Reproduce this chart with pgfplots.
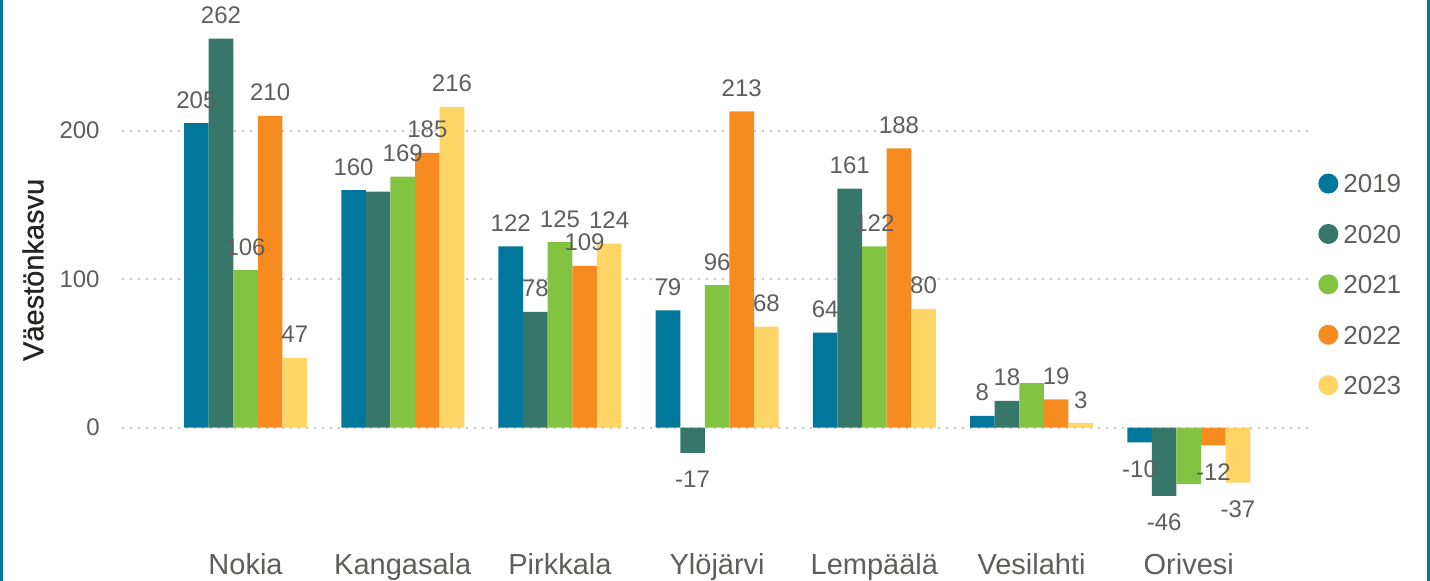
\documentclass[border=0pt]{standalone}
\usepackage{pgfplots}
\pgfplotsset{compat=1.18}
\usepackage{fontspec}
\setmainfont{Liberation Sans}
\newfontfamily\titlefont[FakeBold=0.8]{Liberation Sans}

\definecolor{c2019}{HTML}{01789B}
\definecolor{c2020}{HTML}{37776A}
\definecolor{c2021}{HTML}{82C341}
\definecolor{c2022}{HTML}{F68B1F}
\definecolor{c2023}{HTML}{FFD566}
\definecolor{labelgray}{HTML}{605E5C}
\definecolor{titlegray}{HTML}{252423}
\definecolor{framec}{HTML}{00789C}

\pgfplotsset{
  dotlegend/.style={legend image code/.code={\fill[##1] (5pt,0pt) circle (5pt);}},
}

\begin{document}
\begin{tikzpicture}
\path[use as bounding box] (0,0) rectangle (715pt,290.5pt);
\begin{axis}[
    at={(61pt,30.5pt)}, anchor=south west,
    scale only axis,
    width=595pt, height=260pt,
    xmin=-0.786, xmax=6.784,
    ymin=-62.2, ymax=288,
    ybar=0pt, bar width=12.3pt,
    axis line style={draw=none},
    major tick length=0pt,
    xtick={0,...,6},
    xticklabels={Nokia,Kangasala,Pirkkala,Ylöjärvi,Lempäälä,Vesilahti,Orivesi},
    xticklabel style={font=\fontsize{14.5}{16}\selectfont, text=labelgray, anchor=base, inner sep=0pt, yshift=-27.5pt},
    ytick={0,100,200},
    yticklabel style={font=\fontsize{12}{14}\selectfont, text=labelgray, anchor=east, inner sep=0pt, xshift=-11pt},
    /pgf/number format/assume math mode=true,
    ymajorgrids,
    grid style={line width=1pt, dash pattern=on 1pt off 3pt, color=black!22},
    ylabel={Väestönkasvu},
    every axis y label/.style={at={(axis description cs:-0.0748,0.481)}, rotate=90, anchor=center,
      font=\titlefont\fontsize{14.5}{16}\selectfont, text=titlegray},
    point meta=explicit symbolic,
    nodes near coords,
    visualization depends on=y \as \rawy,
    every node near coord/.append style={font=\fontsize{12}{14}\selectfont, text=labelgray,
      anchor=base, inner sep=0pt, yshift={\rawy<0 ? -17.5pt : 7.5pt}},
    clip=false,
    legend style={draw=none, fill=none, at={(axis description cs:1.005,0.667)}, anchor=north west,
      inner sep=0pt, font=\fontsize{13}{15}\selectfont, text=labelgray,
      row sep=15.2pt, nodes={inner sep=0pt, text height=9.3pt, text depth=0pt},
      /tikz/every odd column/.append style={column sep=2.5pt}},
    legend cell align=left,
    dotlegend,
]
\addplot[fill=c2019, draw=none] coordinates {
  (0,205) [205] (1,160) [160] (2,122) [122] (3,79) [79] (4,64) [64] (5,8) [8] (6,-10) [-10]
};
\addlegendentry{2019}
\addplot[fill=c2020, draw=none] coordinates {
  (0,262) [262] (1,159) [{}] (2,78) [78] (3,-17) [-17] (4,161) [161] (5,18) [18] (6,-46) [-46]
};
\addlegendentry{2020}
\addplot[fill=c2021, draw=none] coordinates {
  (0,106) [106] (1,169) [169] (2,125) [125] (3,96) [96] (4,122) [122] (5,30) [{}] (6,-38) [{}]
};
\addlegendentry{2021}
\addplot[fill=c2022, draw=none] coordinates {
  (0,210) [210] (1,185) [185] (2,109) [109] (3,213) [213] (4,188) [188] (5,19) [19] (6,-12) [-12]
};
\addlegendentry{2022}
\addplot[fill=c2023, draw=none] coordinates {
  (0,47) [47] (1,216) [216] (2,124) [124] (3,68) [68] (4,80) [80] (5,3) [3] (6,-37) [-37]
};
\addlegendentry{2023}
\end{axis}
\fill[framec] (0,0) rectangle (1.5pt,290.5pt);
\fill[framec] (713.5pt,0) rectangle (715pt,290.5pt);
\end{tikzpicture}
\end{document}
